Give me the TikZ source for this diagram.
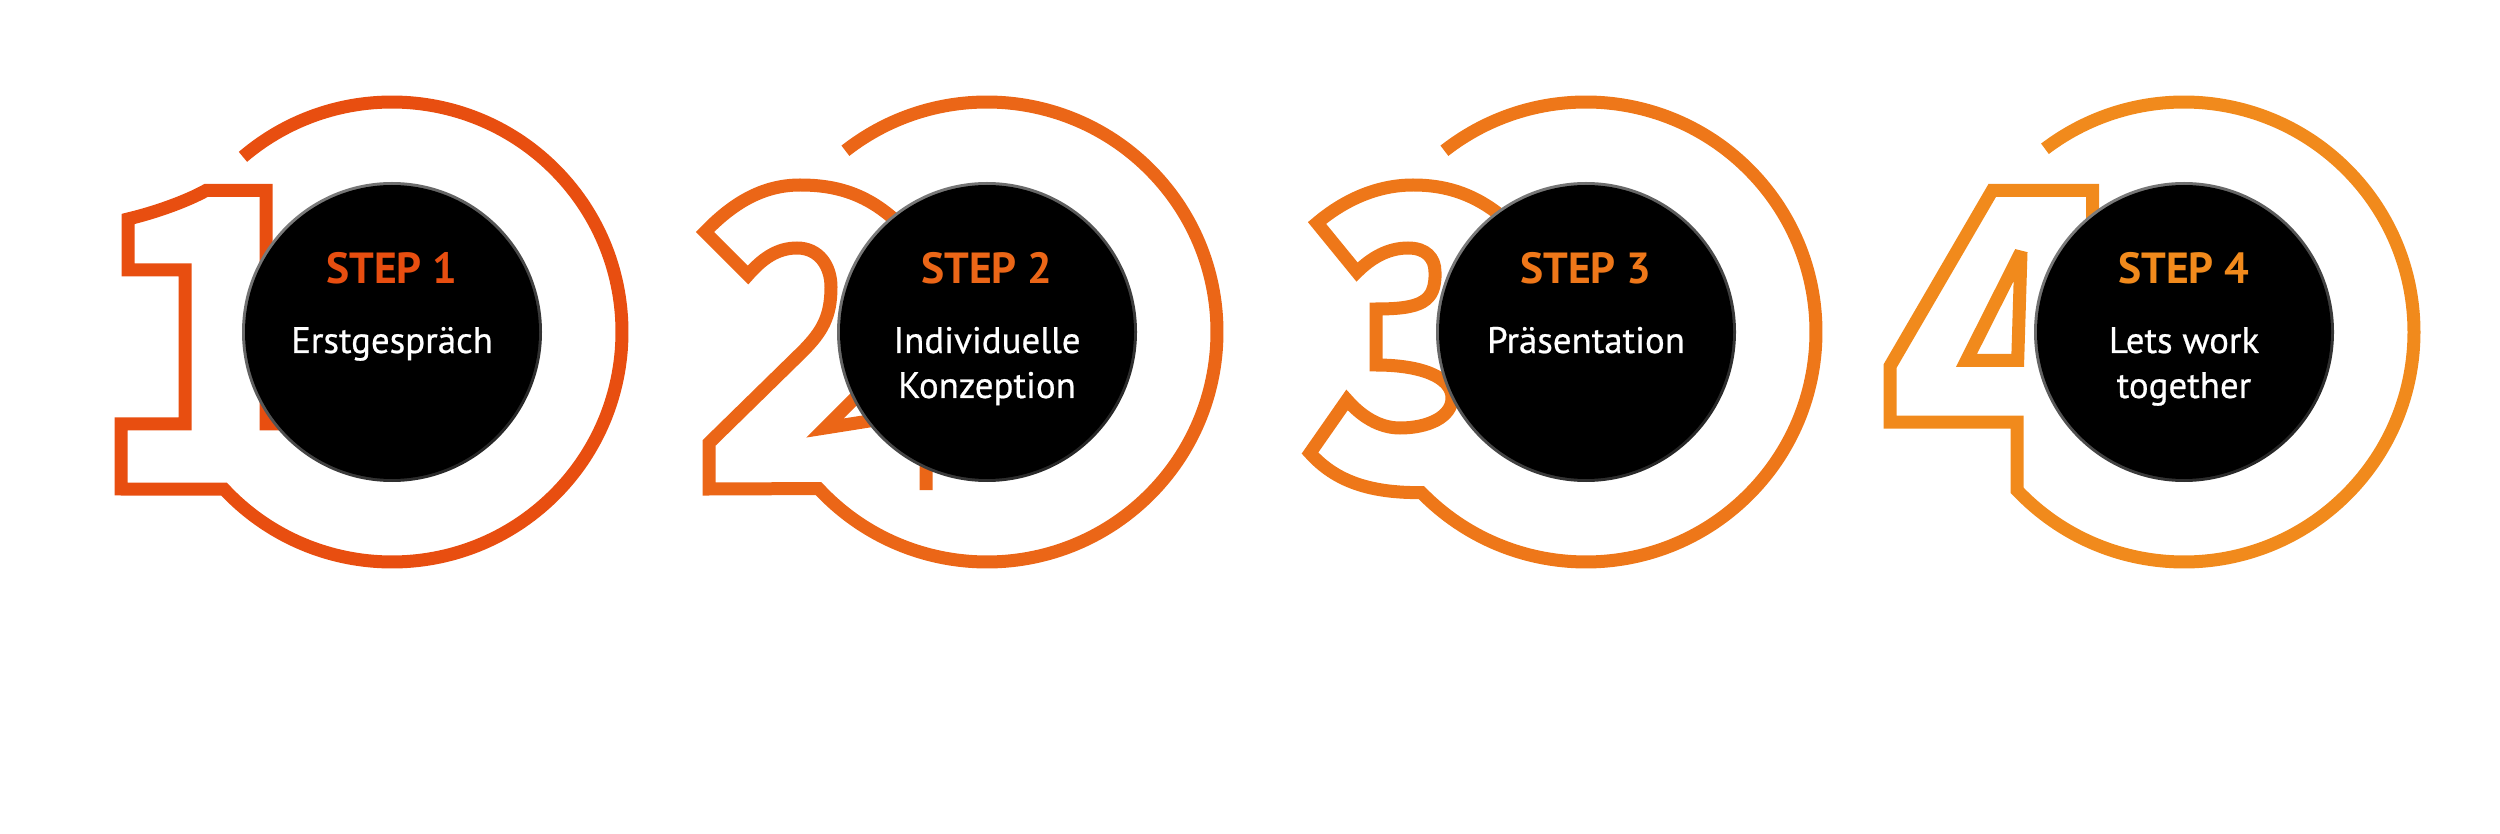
\documentclass[tikz,border=0pt]{standalone}
\usepackage{fontspec}
\setmainfont{PT Sans}
\newfontfamily\bodyfont{PT Sans}[FakeBold=0.6]
\usepackage{tikz}

\definecolor{stepone}{HTML}{E84E10}
\definecolor{steptwo}{HTML}{EB6617}
\definecolor{stepthree}{HTML}{EE7719}
\definecolor{stepfour}{HTML}{F18A1C}
\definecolor{rimlight}{HTML}{7A7A7A}
\definecolor{rimdark}{HTML}{262626}

\tikzset{
  digit/.style={line width=1.3mm, line join=miter},
  rim/.style={top color=rimlight, bottom color=rimdark, shading angle=40},
  disc/.style={circle, fill=black, minimum size=29.4mm, inner sep=0pt},
  steptitle/.style={anchor=base, inner sep=0pt, font=\fontsize{12.4pt}{14pt}\selectfont\bfseries},
  steptext/.style={anchor=base, inner sep=0pt, text=white, font=\bodyfont\fontsize{10.5pt}{12.8pt}\selectfont}
}

\begin{document}
\begin{tikzpicture}[x=0.1mm, y=0.1mm]
  \useasboundingbox (0,0) rectangle (2500,833);

  % Step 1: outlined one with its ring
  \begin{scope}[shift={(392,501)}]
    \draw[digit, stepone] (-60,-92) -- (-126,-92) -- (-126,141.5) -- (-186,141.5)
      .. controls (-205,131) and (-235,120) .. (-264,113)
      -- (-264,62) -- (-207,62) -- (-207,-92) -- (-271,-92) -- (-271,-157)
      -- (223.1:230) arc[start angle=223.1, end angle=490.4, radius=230];
    \shade[rim] (0,0) circle[radius=150];
    \node[disc] (disc1) at (0,0) {};
    \node[steptitle, text=stepone] (title1) at (0,48.5) {STEP 1};
    \node[steptext] (text1) at (0,-21) {\begin{tabular}[t]{@{}c@{}}Erstgespräch\end{tabular}};
  \end{scope}

  % Step 2: outlined two with its ring
  \begin{scope}[shift={(987,501)}]
    \draw[digit, steptwo] (-80,100) .. controls (-115,138) and (-150,147) .. (-187,147)
      .. controls (-225,147) and (-255,128) .. (-282,100) -- (-239,57)
      .. controls (-225,73) and (-210,84) .. (-190,84)
      .. controls (-168,84) and (-156,66) .. (-156,45)
      .. controls (-156,15) and (-165,0) .. (-185,-20)
      -- (-278,-111) -- (-278,-157)
      -- (222.9:230) arc[start angle=222.9, end angle=488, radius=230];
    \draw[digit, steptwo] (-92,-26) -- (-162,-96) -- (-61,-80) -- (-61,-158);
    \shade[rim] (0,0) circle[radius=150];
    \node[disc] (disc2) at (0,0) {};
    \node[steptitle, text=steptwo] (title2) at (0,48.5) {STEP 2};
    \node[steptext] (text2) at (0,-21) {\begin{tabular}[t]{@{}c@{}}Individuelle\\Konzeption\end{tabular}};
  \end{scope}

  % Step 3: outlined three with its ring
  \begin{scope}[shift={(1586,501)}]
    \draw[digit, stepthree] (-80,112) .. controls (-110,138) and (-140,147) .. (-173,147)
      .. controls (-210,147) and (-243,131) .. (-269,109) -- (-229,60)
      .. controls (-215,74) and (-198,84) .. (-178,84)
      .. controls (-160,84) and (-151,74) .. (-151,60)
      .. controls (-150,30) and (-165,23) .. (-210,23) -- (-210,-33)
      .. controls (-165,-33) and (-134,-45) .. (-134,-66)
      .. controls (-134,-85) and (-158,-96) .. (-186,-96)
      .. controls (-207,-96) and (-225,-84) .. (-239,-68) -- (-276,-121)
      .. controls (-250,-150) and (-215,-161) .. (224.3:230)
      arc[start angle=224.3, end angle=488, radius=230];
    \shade[rim] (0,0) circle[radius=150];
    \node[disc] (disc3) at (0,0) {};
    \node[steptitle, text=stepthree] (title3) at (0,48.5) {STEP 3};
    \node[steptext] (text3) at (0,-21) {\begin{tabular}[t]{@{}c@{}}Präsentation\end{tabular}};
  \end{scope}

  % Step 4: outlined four with its ring
  \begin{scope}[shift={(2184,501)}]
    \draw[digit, stepfour] (-91.5,100) -- (-91.5,141.5) -- (-191.8,141.5) -- (-294,-34.2)
      -- (-294,-90.2) -- (-166.8,-90.2)
      -- (223.5:230) arc[start angle=223.5, end angle=487.2, radius=230];
    \draw[digit, stepfour, miter limit=3] (-163,80) -- (-166.3,-28.5) -- (-217.6,-28.5) -- cycle;
    \shade[rim] (0,0) circle[radius=150];
    \node[disc] (disc4) at (0,0) {};
    \node[steptitle, text=stepfour] (title4) at (0,48.5) {STEP 4};
    \node[steptext] (text4) at (0,-21) {\begin{tabular}[t]{@{}c@{}}Lets work\\together\end{tabular}};
  \end{scope}
\end{tikzpicture}
\end{document}
